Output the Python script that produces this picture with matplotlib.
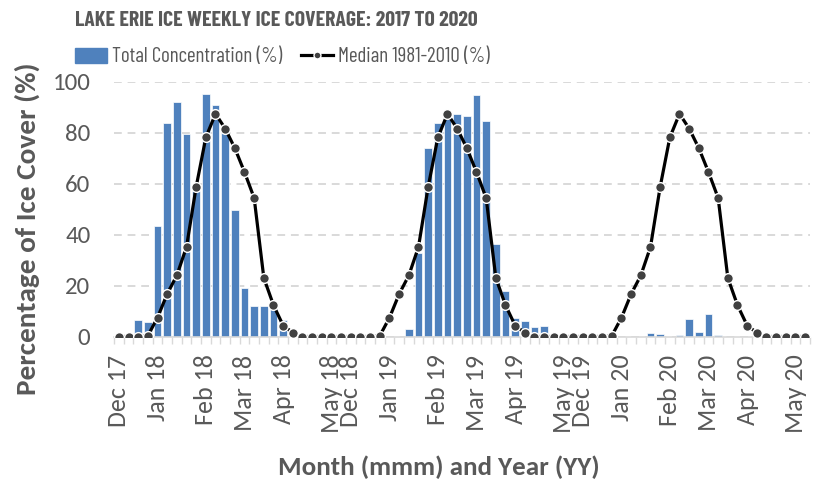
import numpy as np
import matplotlib
matplotlib.use("Agg")
import matplotlib.pyplot as plt
from matplotlib.lines import Line2D
from matplotlib.patches import Patch

AXIS_FONT = ['Carlito', 'DejaVu Sans']          # Calibri-like
NARROW_FONT = ['Barlow Condensed', 'DejaVu Sans']  # title + legend look condensed
plt.rcParams['font.family'] = AXIS_FONT

# weekly categories, one season = 24 weeks (Dec .. May)
season_months = ["Dec", "", "", "", "Jan", "", "", "", "", "Feb", "", "", "",
                 "Mar", "", "", "", "Apr", "", "", "", "", "May", ""]
season_years = [("17", "18"), ("18", "19"), ("19", "20")]

# total ice concentration (%) per week
ice_1718 = [0, 0, 6.5, 5.6, 43.5, 83.9, 92.2, 79.6, 57, 95.3, 90.8, 82,
            49.7, 19.1, 11.9, 11.9, 13, 6.3, 0, 0, 0, 0, 0, 0]
ice_1819 = [0, 0, 0, 0, 0, 0, 3.1, 33, 74, 83.9, 88, 87.4,
            86.7, 95, 84.8, 36.3, 18, 7.4, 6.2, 3.8, 4.3, 0, 0, 0]
ice_1920 = [0, 0, 0, 0, 0, 0, 0, 1.3, 0.9, 0, 0.5, 6.9,
            1.8, 8.9, 0.5, 0, 0, 0, 0, 0, 0, 0, 0, 0]

# median 1981-2010 (%), same for every season
median_8110 = [0, 0, 0, 0.3, 7.4, 16.7, 24, 35.2, 58.8, 78.2, 87.5, 81.7,
               74, 64.6, 54.4, 23, 12.3, 4.3, 1.5, 0, 0, 0, 0, 0]

labels = []
for y0, y1 in season_years:
    for m in season_months:
        if m == "":
            labels.append("")
        elif m == "Dec":
            labels.append(m + " " + y0)
        else:
            labels.append(m + " " + y1)

ice = np.array(ice_1718 + ice_1819 + ice_1920)
median = np.array(median_8110 * len(season_years))
x = np.arange(len(ice))

grey = '#595959'
W, H = 820, 483
fig = plt.figure(figsize=(W / 100, H / 100), dpi=100)
renderer = fig.canvas.get_renderer()


# font size (pt) that makes a string span target_px on the picture
def fit_size(s, target_px, family, weight='normal', rotation=0):
    t = fig.text(0, 0, s, fontsize=20, fontweight=weight, rotation=rotation, family=family)
    bb = t.get_window_extent(renderer)
    t.remove()
    return 20 * target_px / (bb.height if rotation else bb.width)


tick_fs = fit_size("100", 38, AXIS_FONT)
xtick_fs = fit_size("Dec 17", 72, AXIS_FONT, 'normal', 90)
ylab_fs = fit_size("Percentage of Ice Cover (%)", 333, AXIS_FONT, 'bold', 90)
xlab_fs = fit_size("Month (mmm) and Year (YY)", 322, AXIS_FONT, 'bold')
leg_fs = fit_size("Total Concentration (%)", 171, NARROW_FONT)
title_fs = fit_size("LAKE ERIE ICE WEEKLY ICE COVERAGE: 2017 TO 2020", 403, NARROW_FONT, 'bold')

# plot area: 114..810 px wide, 82..336.5 px high
ax = fig.add_axes([114 / W, 1 - 336.5 / H, 696 / W, 254.5 / H])

ax.bar(x, ice, width=0.8, color='#4F81BD', edgecolor='white', linewidth=0.5, zorder=2)
ax.plot(x, median, color='black', lw=2.3, marker='o', markersize=7,
        markerfacecolor='#404040', markeredgecolor='white', markeredgewidth=1.0, zorder=3)

ax.set_xlim(-0.5, len(x) - 0.5)
ax.set_ylim(0, 100)
ax.set_yticks(np.arange(0, 101, 20))
ax.yaxis.grid(True, color='#D9D9D9', linestyle=(0, (4, 3)), linewidth=1.4, zorder=0)
ax.set_axisbelow(True)
for s in ['left', 'right', 'top']:
    ax.spines[s].set_visible(False)
ax.spines['bottom'].set_color('#D9D9D9')
ax.spines['bottom'].set_linewidth(1.2)

lab_idx = [i for i, l in enumerate(labels) if l]
ax.set_xticks(lab_idx)
ax.set_xticklabels([labels[i] for i in lab_idx], rotation=90, fontsize=xtick_fs, color=grey)
ax.set_xticks(np.arange(-0.5, len(x), 1), minor=True)
ax.tick_params(axis='x', which='major', length=0, pad=13)
ax.tick_params(axis='x', which='minor', length=5, color='#D9D9D9', width=1)
ax.tick_params(axis='y', length=0, pad=17, labelsize=tick_fs, labelcolor=grey)

fig.text(27 / W, 1 - 229 / H, "Percentage of Ice Cover (%)", rotation=90, ha='center', va='center',
         fontsize=ylab_fs, fontweight='bold', color=grey)
fig.text(439 / W, 1 - 467 / H, "Month (mmm) and Year (YY)", ha='center', va='center',
         fontsize=xlab_fs, fontweight='bold', color=grey)
fig.text(75 / W, 1 - 21 / H, "LAKE ERIE ICE WEEKLY ICE COVERAGE: 2017 TO 2020", ha='left', va='center',
         fontsize=title_fs, fontweight='bold', color=grey, family=NARROW_FONT)

fs_px = leg_fs / 72 * 100
handles = [Patch(color='#4F81BD'),
           Line2D([], [], color='black', lw=2.3, marker='o', markersize=5,
                  markerfacecolor='#404040', markeredgecolor='white')]
fig.legend(handles, ["Total Concentration (%)", "Median 1981-2010 (%)"], ncol=2,
           loc='center left', bbox_to_anchor=(75 / W, 1 - 57 / H), frameon=False,
           prop={'family': NARROW_FONT, 'size': leg_fs}, labelcolor=grey,
           handlelength=32 / fs_px, handleheight=0.7,
           handletextpad=5 / fs_px, columnspacing=19 / fs_px, borderaxespad=0, borderpad=0)

fig.savefig('out.png', dpi=100)
